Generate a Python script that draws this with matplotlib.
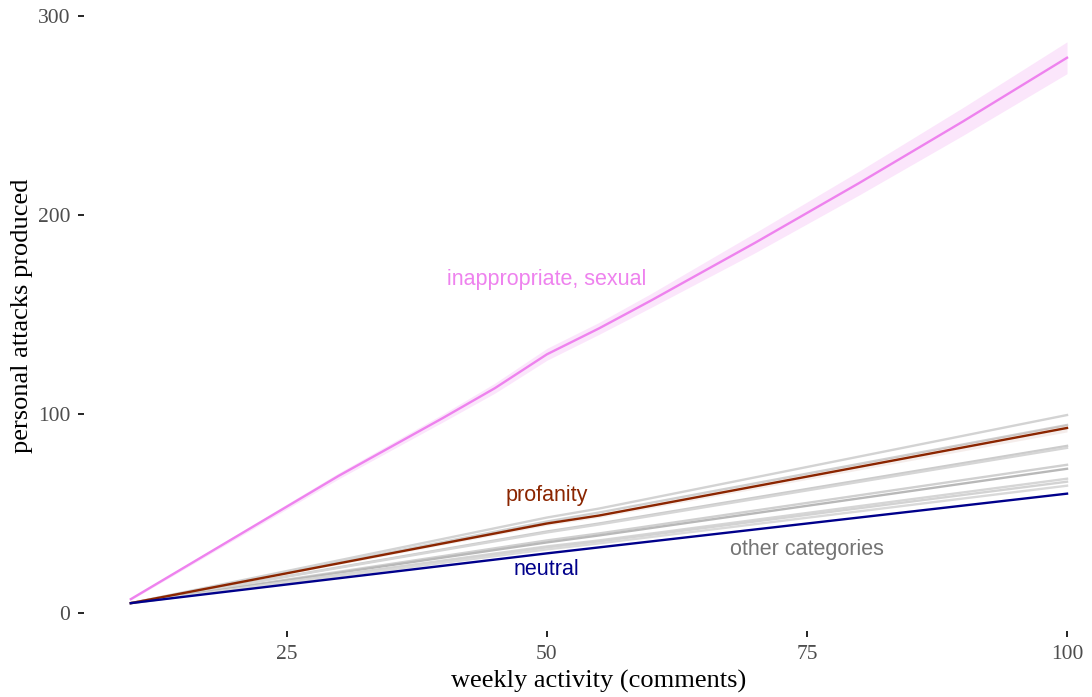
import matplotlib.pyplot as plt
import numpy as np

# weekly activity (comments) at which the fitted curves were read
activity = [10, 20, 30, 40, 45, 50, 55, 60, 70, 80, 90, 100]

sexual = [7, 38, 69, 98, 113, 130, 143, 157, 186, 216, 247, 279]
sexual_lo = [6.5, 37, 67.5, 96, 110.5, 127, 140, 153.5, 181, 210, 240, 271]
sexual_hi = [7.5, 39, 70.5, 100, 115.5, 133, 146, 160.5, 191, 222, 254, 287]

# the smaller categories only need their corner points
act_small = [10, 50, 55, 100]
profanity = [5, 45, 49, 93]
profanity_lo = [4.8, 44, 48, 91]
profanity_hi = [5.2, 46, 50, 95]
neutral = [5, 30, 33, 60]

others = [
    [5, 48, 52.5, 99.5],
    [5, 46, 50.5, 94.5],
    [5, 41, 45, 84],
    [5, 40.5, 44.5, 83],
    [5, 36.5, 40, 74.5],
    [5, 35.5, 39, 72.5],
    [5, 33.5, 36.5, 67.5],
    [5, 33, 36, 66],
    [5, 32, 35, 64],
]
other_colors = ['#d3d3d3', '#d0d0d0', '#cccccc', '#d6d6d6', '#d0d0d0',
                '#b8b8b8', '#d6d6d6', '#d3d3d3', '#d9d9d9']

serif = ['Liberation Serif', 'DejaVu Serif']
sans = ['Liberation Sans', 'DejaVu Sans']

fig = plt.figure(figsize=(10.92, 6.97), dpi=100)
ax = fig.add_axes([84 / 1092, 66 / 697, 1 - 84 / 1092, 631 / 697])

for vals, col in zip(others, other_colors):
    ax.plot(act_small, vals, color=col, lw=1.7, zorder=2)

ax.fill_between(act_small, profanity_lo, profanity_hi, color='#8b2500',
                alpha=0.08, lw=0, zorder=2)
ax.plot(act_small, profanity, color='#8b2500', lw=1.7, zorder=3)
ax.plot(act_small, neutral, color='#00008b', lw=1.7, zorder=3)

ax.fill_between(activity, sexual_lo, sexual_hi, color='#ee82ee',
                alpha=0.2, lw=0, zorder=2)
ax.plot(activity, sexual, color='#ee82ee', lw=1.7, zorder=3)

ax.text(50, 167.5, 'inappropriate, sexual', color='#ee82ee', fontsize=15.5,
        family=sans, ha='center', va='center')
ax.text(50, 59, 'profanity', color='#8b2500', fontsize=15.5,
        family=sans, ha='center', va='center')
ax.text(50, 22, 'neutral', color='#00008b', fontsize=15.5,
        family=sans, ha='center', va='center')
ax.text(75, 32, 'other categories', color='#737373', fontsize=15.5,
        family=sans, ha='center', va='center')

ax.set_xlim(5.5, 102.4)
ax.set_ylim(-9, 308)
ax.set_xticks([25, 50, 75, 100])
ax.set_yticks([0, 100, 200, 300])
for s in ax.spines.values():
    s.set_visible(False)
ax.tick_params(length=4, width=1.2, color='black', labelsize=15.5,
               labelcolor='#4d4d4d', pad=6)
for lab in ax.get_xticklabels() + ax.get_yticklabels():
    lab.set_family(serif)

ax.set_xlabel('weekly activity (comments)', fontsize=19, family=serif)
ax.set_ylabel('personal attacks produced', fontsize=19, family=serif)
# the original panel runs past the right edge, so its title sits a bit right
ax.xaxis.set_label_coords(0.511, -0.062)
ax.yaxis.set_label_coords(-0.051, 0.5)

fig.savefig('out.png', dpi=100)
